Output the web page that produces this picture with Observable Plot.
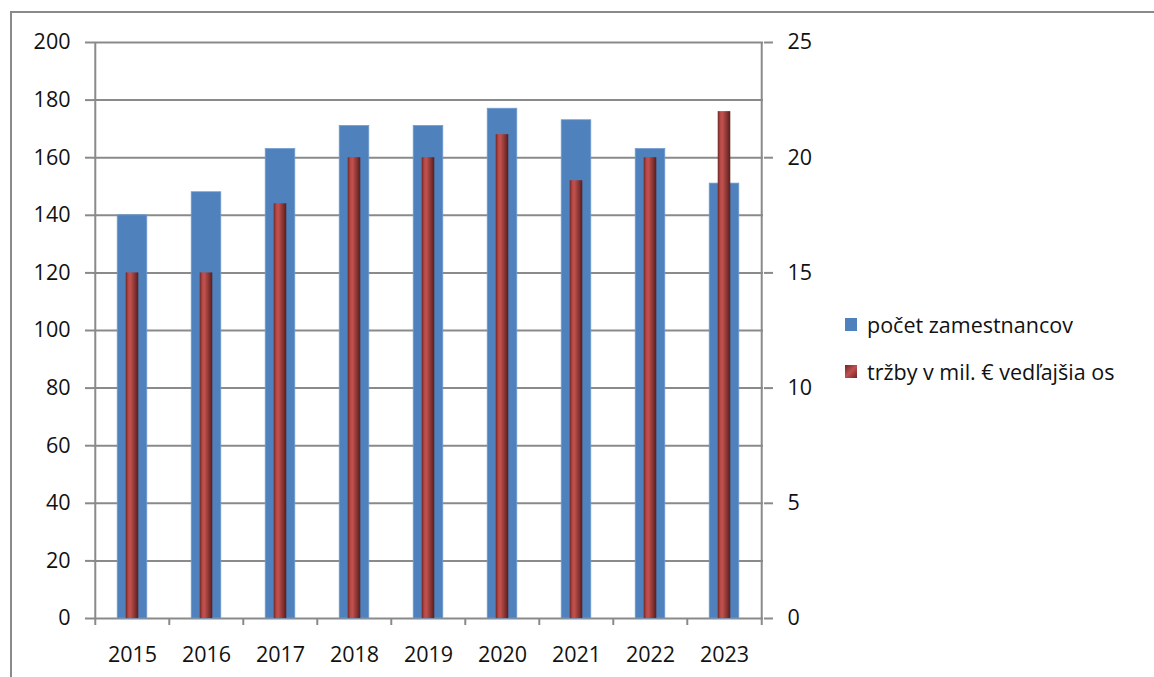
<!DOCTYPE html>
<html>
<head>
<meta charset="utf-8">
<script src="https://cdn.jsdelivr.net/npm/d3@7"></script>
<script src="https://cdn.jsdelivr.net/npm/@observablehq/plot@0.6"></script>
<style>
  html, body { margin: 0; padding: 0; background: #fff; }
  #wrap { position: relative; width: 1154px; height: 677px; overflow: hidden; font-family: "Open Sans", sans-serif; }
  #border { position: absolute; left: 10px; top: 11px; width: 1200px; height: 800px; border-left: 2px solid #8a8a8a; border-top: 2px solid #8a8a8a; box-sizing: border-box; }
  #chart { position: absolute; left: 0; top: 0; }
  #legend { position: absolute; left: 845px; top: 308px; font-size: 21.5px; color: #111; }
  .item { display: flex; align-items: center; height: 32px; margin-bottom: 15px; white-space: nowrap; }
  .sw { width: 12px; height: 13px; margin-right: 10px; flex: none; }
</style>
</head>
<body>
<div id="wrap">
  <div id="border"></div>
  <div id="chart"></div>
  <div id="legend"></div>
</div>
<script>
const years = ["2015", "2016", "2017", "2018", "2019", "2020", "2021", "2022", "2023"];
const employees = [140, 148, 163, 171, 171, 177, 173, 163, 151];
const revenue = [15, 15, 18, 20, 20, 21, 19, 20, 22];
const leftTicks = [0, 20, 40, 60, 80, 100, 120, 140, 160, 180, 200];
const rightTicks = [0, 5, 10, 15, 20, 25];
const seriesNames = ["počet zamestnancov", "tržby v mil. € vedľajšia os"];

const leftMax = 200, rightMax = 25;
const k = leftMax / rightMax;

const W = 1154, H = 677, mL = 93, mR = 391, mT = 42, mB = 59;
const bw = (W - mL - mR) / years.length;

const rows = years.map((y, i) => ({year: y, emp: employees[i], rev: revenue[i]}));

const defs = () => {
  const d = d3.create("svg:defs");
  const g = d.append("linearGradient").attr("id", "redGrad").attr("x1", "0").attr("x2", "1").attr("y1", "0").attr("y2", "0");
  [["0%", "#6d2624"], ["20%", "#b44a47"], ["38%", "#c0504d"], ["68%", "#8e3836"], ["100%", "#561e1c"]]
    .forEach(([o, c]) => g.append("stop").attr("offset", o).attr("stop-color", c));
  return d.node();
};

const grid = "#8a8a8a";

const plot = Plot.plot({
  width: W, height: H,
  marginLeft: mL, marginRight: mR, marginTop: mT, marginBottom: mB,
  style: {fontFamily: "'Open Sans', sans-serif", fontSize: "21.5px", color: "#111", background: "transparent", overflow: "visible"},
  x: {type: "band", domain: years, padding: 0},
  y: {domain: [0, leftMax]},
  marks: [
    defs,
    Plot.ruleY(leftTicks, {y: d => d, stroke: grid, strokeWidth: 2}),
    Plot.axisY(leftTicks, {anchor: "left", tickSize: 8, tickPadding: 15, stroke: grid, strokeWidth: 2, label: null, fill: "#111"}),
    Plot.axisY(rightTicks.map(v => v * k), {anchor: "right", tickSize: 9, tickPadding: 15, stroke: grid, strokeWidth: 2, label: null, tickFormat: v => String(v / k), fill: "#111"}),
    Plot.ruleX(years, {x: d => d, dx: -bw / 2, y1: 0, y2: 0, insetBottom: -7, stroke: grid, strokeWidth: 2}),
    Plot.ruleX([years[years.length - 1]], {x: d => d, dx: bw / 2, y1: 0, y2: 0, insetBottom: -7, stroke: grid, strokeWidth: 2}),
    Plot.ruleX([years[0]], {x: d => d, dx: -bw / 2, y1: 0, y2: leftMax, stroke: grid, strokeWidth: 2}),
    Plot.ruleX([years[years.length - 1]], {x: d => d, dx: bw / 2, y1: 0, y2: leftMax, stroke: grid, strokeWidth: 2}),
    Plot.axisX(years, {anchor: "bottom", tickSize: 0, tickPadding: 28, label: null, fill: "#111"}),
    Plot.barY(rows, {x: "year", y: "emp", fill: "#4f81bd", stroke: "#6f9bd0", strokeWidth: 0.8, insetLeft: (bw - 30) / 2, insetRight: (bw - 30) / 2}),
    Plot.barY(rows, {x: "year", y: d => d.rev * k, fill: "url(#redGrad)", insetLeft: (bw - 13) / 2, insetRight: (bw - 13) / 2})
  ]
});
document.getElementById("chart").appendChild(plot);

const legendColors = ["#4f81bd", "linear-gradient(135deg, #6d2624, #c0504d 50%, #6d2624)"];
const legend = document.getElementById("legend");
seriesNames.forEach((name, i) => {
  const it = document.createElement("div");
  it.className = "item";
  const sw = document.createElement("span");
  sw.className = "sw";
  sw.style.background = legendColors[i];
  const t = document.createElement("span");
  t.textContent = name;
  it.appendChild(sw); it.appendChild(t);
  legend.appendChild(it);
});
</script>
</body>
</html>
